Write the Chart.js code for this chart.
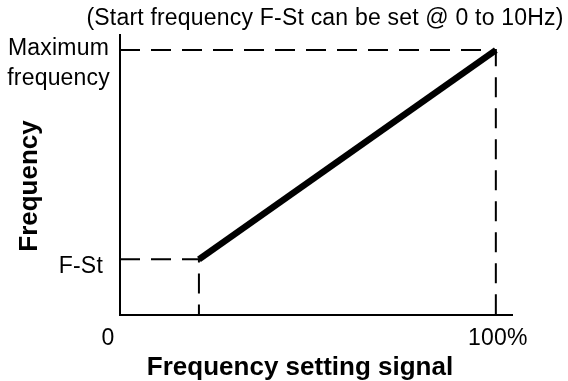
<!DOCTYPE html>
<html>
<head>
<meta charset="utf-8">
<script src="https://cdn.jsdelivr.net/npm/chart.js@4/dist/chart.umd.min.js"></script>
<style>
  html, body { margin: 0; padding: 0; background: #fff; }
  #wrap { width: 568px; height: 381px; position: relative; }
</style>
</head>
<body>
<div id="wrap"><canvas id="c"></canvas></div>
<script>
// Frequency setting signal (%) and output frequency (% of maximum)
const signalPct = [21, 100];
const outputPct = [21, 100];

// Axis extents
const xMax = 104.3;
const yMax = 105.7;

// Tick labels
const xTickValues = [0, 100];
const xTickLabels = ['0', '100%'];
const yTickLabels = ['F-St', 'Maximum', 'frequency'];

const caption = '(Start frequency F-St can be set @ 0 to 10Hz)';
const xTitle = 'Frequency setting signal';
const yTitle = 'Frequency';

const FONT = '"Liberation Sans", Arial, Helvetica, sans-serif';

// Main characteristic
const mainLine = signalPct.map((x, i) => ({ x, y: outputPct[i] }));

// Dashed guides to the axes from both ends of the characteristic
const guideTop = [
  { x: 0, y: outputPct[1] },
  { x: signalPct[1], y: outputPct[1] },
  { x: signalPct[1], y: 0 }
];
const guideStart = [
  { x: 0, y: outputPct[0] },
  { x: signalPct[0], y: outputPct[0] },
  { x: signalPct[0], y: 0 }
];

const labelPlugin = {
  id: 'labels',
  afterDraw(chart) {
    const ctx = chart.ctx;
    const xs = chart.scales.x, ys = chart.scales.y;
    ctx.save();
    ctx.fillStyle = '#000';
    ctx.textBaseline = 'alphabetic';

    // caption
    ctx.font = '23px ' + FONT;
    ctx.letterSpacing = '0.2px';
    ctx.textAlign = 'center';
    ctx.fillText(caption, 325, 25);

    // y tick labels
    ctx.textAlign = 'right';
    const yStart = ys.getPixelForValue(outputPct[0]);
    const yTop = ys.getPixelForValue(outputPct[1]);
    ctx.fillText(yTickLabels[0], 103, yStart + 14);
    ctx.fillText(yTickLabels[1], 109, yTop + 5);
    ctx.fillText(yTickLabels[2], 110, yTop + 35);

    // x tick labels
    ctx.textAlign = 'center';
    ctx.fillText(xTickLabels[0], xs.getPixelForValue(xTickValues[0]) - 12, 345);
    ctx.fillText(xTickLabels[1], xs.getPixelForValue(xTickValues[1]) + 2, 345);

    // axis titles
    ctx.letterSpacing = '0px';
    ctx.font = 'bold 26px ' + FONT;
    ctx.fillText(xTitle, 300, 375);
    ctx.translate(37, 186);
    ctx.rotate(-Math.PI / 2);
    ctx.fillText(yTitle, 0, 0);
    ctx.restore();
  }
};

new Chart(document.getElementById('c'), {
  type: 'scatter',
  data: {
    datasets: [
      {
        data: guideTop, showLine: true, borderColor: '#000', borderWidth: 2,
        borderDash: [20, 11], pointRadius: 0, fill: false
      },
      {
        data: guideStart, showLine: true, borderColor: '#000', borderWidth: 2,
        borderDash: [20, 11], pointRadius: 0, fill: false
      },
      {
        data: mainLine, showLine: true, borderColor: '#000', borderWidth: 6.5,
        borderCapStyle: 'butt', pointRadius: 0, fill: false
      }
    ]
  },
  options: {
    responsive: true,
    maintainAspectRatio: false,
    animation: false,
    events: [],
    layout: { padding: { left: 120, right: 56, top: 35, bottom: 66 } },
    plugins: { legend: { display: false }, tooltip: { enabled: false } },
    scales: {
      x: {
        type: 'linear', min: 0, max: xMax,
        grid: { display: false, drawTicks: false },
        border: { display: true, color: '#000', width: 2 },
        ticks: { display: false }
      },
      y: {
        type: 'linear', min: 0, max: yMax,
        grid: { display: false, drawTicks: false },
        border: { display: true, color: '#000', width: 2 },
        ticks: { display: false }
      }
    }
  },
  plugins: [labelPlugin]
});
</script>
</body>
</html>
